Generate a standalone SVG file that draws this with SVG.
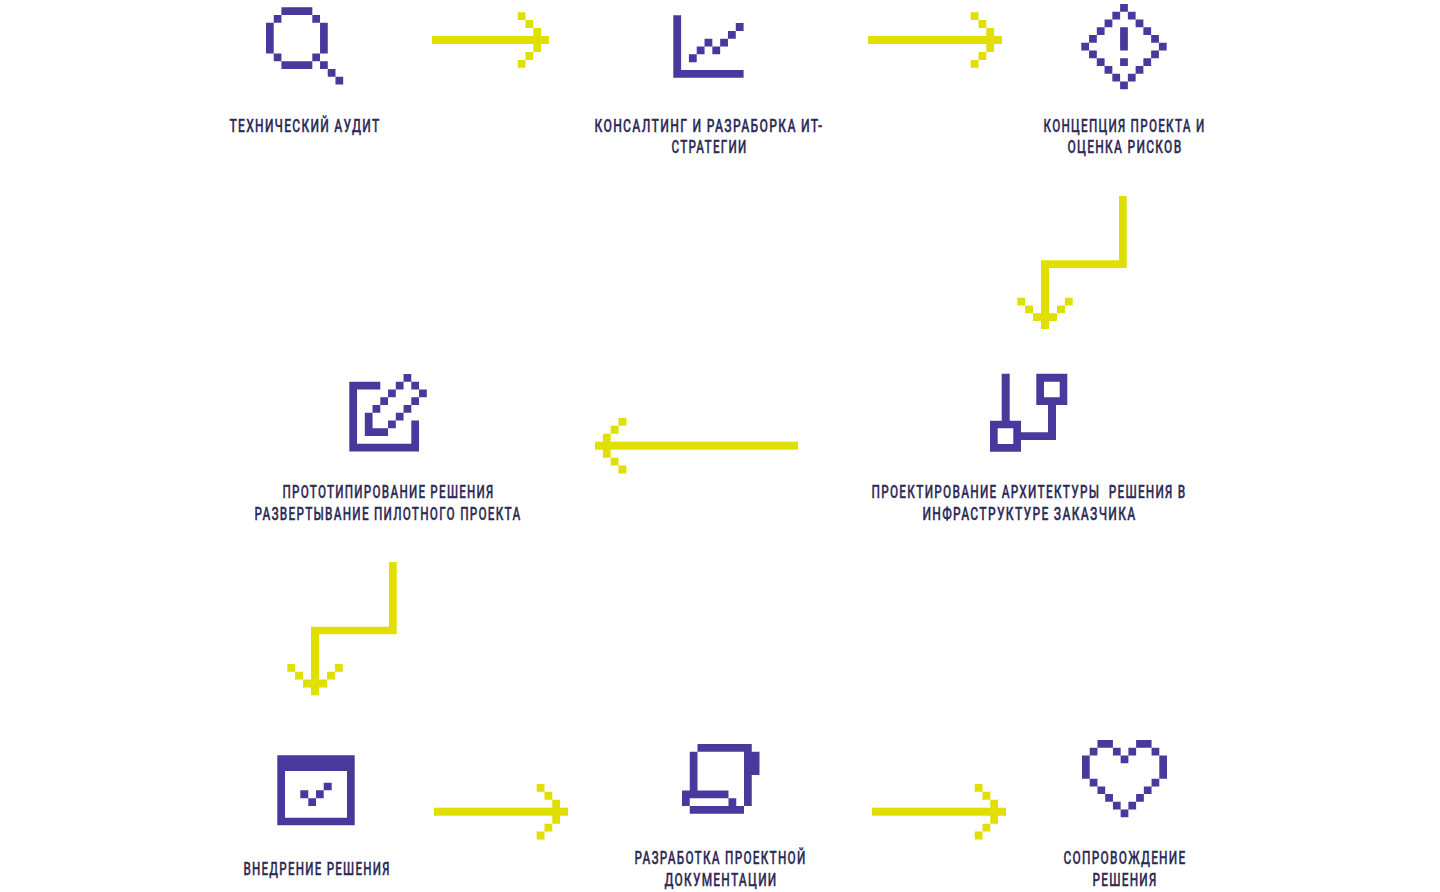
<svg xmlns="http://www.w3.org/2000/svg" width="1440" height="892" viewBox="0 0 1440 892">
<style>
.icon{fill:#4a389c;fill-rule:evenodd}
.c{fill:#e0df00}
text{font-family:"Roboto","Liberation Sans",sans-serif;font-size:19px;font-weight:500;letter-spacing:2px;fill:#2d2a56;stroke:#2d2a56;stroke-width:.3;white-space:pre}
</style>
<defs>
<path id="head" d="M-31.3-27.7h7.8v7.8h-7.8zM-23.5-19.9h7.8v7.9h-7.8zM-15.7-12h7.8v24h-7.8zM-23.5 12h7.8v7.9h-7.8zM-31.3 19.9h7.8v7.8h-7.8z"/>
</defs>
<rect width="1440" height="892" fill="#fff"/>
<g id="connectors" class="c">
<g id="c1"><rect x="432" y="36" width="117" height="8"/><use href="#head" x="549" y="40"/></g>
<g id="c2"><rect x="868" y="36" width="134" height="8"/><use href="#head" x="1002" y="40"/></g>
<g id="c3"><path d="M1119 196h7.7v72H1049v61h-8V260.300H1119z"/><use href="#head" transform="translate(1045 329) rotate(90)"/></g>
<g id="c4"><rect x="595" y="441.700" width="203" height="8"/><use href="#head" transform="translate(595 445.700) rotate(180)"/></g>
<g id="c5"><path d="M389 562h7.700v72.300H319v61h-8V626.700H389z"/><use href="#head" transform="translate(315 695.300) rotate(90)"/></g>
<g id="c6"><rect x="434" y="807.700" width="134" height="8"/><use href="#head" x="568" y="811.700"/></g>
<g id="c7"><rect x="872" y="807.700" width="134" height="8"/><use href="#head" x="1006" y="811.700"/></g>
</g>
<g id="node-audit">
<path class="icon" transform="translate(266 7.300) scale(7.72)" d="M2 0h4v1H2zM1 1h1v1H1zM6 1h1v1H6zM0 2h1v4H0zM7 2h1v4H7zM1 6h1v1H1zM6 6h1v1H6zM2 7h4v1H2zM7 7h1v1H7zM8 8h1v1H8zM9 9h1v1H9z"/>
<text x="229.500" y="131.500" textLength="151" lengthAdjust="spacingAndGlyphs">ТЕХНИЧЕСКИЙ АУДИТ</text>
</g>
<g id="node-consulting">
<path class="icon" transform="translate(673.300 15.300) scale(7.81)" d="M0 0h1v7h8v1H0zM2 5h1v1H2zM3 4h1v1H3zM4 3h1v1H4zM5 4h1v1H5zM6 3h1v1H6zM7 2h1v1H7zM8 1h1v1H8z"/>
<text x="594.500" y="131.500" textLength="229" lengthAdjust="spacingAndGlyphs">КОНСАЛТИНГ И РАЗРАБОРКА ИТ-</text>
<text x="671.500" y="153" textLength="76" lengthAdjust="spacingAndGlyphs">СТРАТЕГИИ</text>
</g>
<g id="node-concept">
<path class="icon" transform="translate(1081.300 4) scale(7.76)" d="M5 0h1v1H5zM4 1h1v1H4zM6 1h1v1H6zM3 2h1v1H3zM7 2h1v1H7zM2 3h1v1H2zM8 3h1v1H8zM1 4h1v1H1zM9 4h1v1H9zM0 5h1v1H0zM10 5h1v1h-1zM1 6h1v1H1zM9 6h1v1H9zM2 7h1v1H2zM8 7h1v1H8zM3 8h1v1H3zM7 8h1v1H7zM4 9h1v1H4zM6 9h1v1H6zM5 10h1v1H5zM5 3h1v3H5zM5 7h1v1H5z"/>
<text x="1043.500" y="131.500" textLength="162" lengthAdjust="spacingAndGlyphs">КОНЦЕПЦИЯ ПРОЕКТА И</text>
<text x="1067.500" y="153" textLength="115" lengthAdjust="spacingAndGlyphs">ОЦЕНКА РИСКОВ</text>
</g>
<g id="node-architecture">
<path class="icon" d="M1001.700 373.700h8v47h-8zM1036.300 373.700h31V405h-31zM1044 381.700v15.600h15.700v-15.600zM990 420.700h31v31h-31zM997.700 428.300V444h15.600v-15.700zM1048 405h8v35h-35v-7.700h27z"/>
<text x="871.500" y="498" textLength="315" lengthAdjust="spacingAndGlyphs">ПРОЕКТИРОВАНИЕ АРХИТЕКТУРЫ  РЕШЕНИЯ В</text>
<text x="922.500" y="520" textLength="214" lengthAdjust="spacingAndGlyphs">ИНФРАСТРУКТУРЕ ЗАКАЗЧИКА</text>
</g>
<g id="node-prototype">
<path class="icon" transform="translate(349.300 374) scale(7.75)" d="M7 0h1v1H7zM6 1h1v1H6zM8 1h1v1H8zM5 2h1v1H5zM9 2h1v1H9zM4 3h1v1H4zM8 3h1v1H8zM3 4h1v1H3zM7 4h1v1H7zM6 5h1v1H6zM5 6h1v1H5zM0 1h4v1H1v7h7V6h1v4H0zM2 5h1v2h2v1H2z"/>
<text x="282.500" y="498" textLength="212" lengthAdjust="spacingAndGlyphs">ПРОТОТИПИРОВАНИЕ РЕШЕНИЯ</text>
<text x="254.500" y="520" textLength="267" lengthAdjust="spacingAndGlyphs">РАЗВЕРТЫВАНИЕ ПИЛОТНОГО ПРОЕКТА</text>
</g>
<g id="node-deploy">
<path class="icon" d="M277.300 755.300h77.400v70h-77.400zM285 771v46.700h62V771zM300.300 790.300h8v8h-8zM308.300 798.300h7.700v7.700h-7.700zM316 790.300h7.700v8H316zM323.700 782.700h8v7.600h-8z"/>
<text x="243.500" y="875" textLength="147" lengthAdjust="spacingAndGlyphs">ВНЕДРЕНИЕ РЕШЕНИЯ</text>
</g>
<g id="node-docs">
<path class="icon" transform="translate(682 744) scale(7.75)" d="M2 0h7v1H2zM8 1h1v7H8zM9 1h1v3H9zM1 1h1v5H1zM0 6h6v1H0zM0 7h1v1H0zM6 7h1v1H6zM1 8h7v1H1z"/>
<text x="634.500" y="864" textLength="172" lengthAdjust="spacingAndGlyphs">РАЗРАБОТКА ПРОЕКТНОЙ</text>
<text x="664.500" y="886" textLength="113" lengthAdjust="spacingAndGlyphs">ДОКУМЕНТАЦИИ</text>
</g>
<g id="node-support">
<path class="icon" transform="translate(1082 740) scale(7.73)" d="M2 0h2v1H2zM7 0h2v1H7zM1 1h1v1H1zM4 1h1v1H4zM6 1h1v1H6zM9 1h1v1H9zM5 2h1v1H5zM0 2h1v3H0zM10 2h1v3h-1zM1 5h1v1H1zM9 5h1v1H9zM2 6h1v1H2zM8 6h1v1H8zM3 7h1v1H3zM7 7h1v1H7zM4 8h1v1H4zM6 8h1v1H6zM5 9h1v1H5z"/>
<text x="1063.500" y="864" textLength="123" lengthAdjust="spacingAndGlyphs">СОПРОВОЖДЕНИЕ</text>
<text x="1092.500" y="886" textLength="65" lengthAdjust="spacingAndGlyphs">РЕШЕНИЯ</text>
</g>
</svg>
